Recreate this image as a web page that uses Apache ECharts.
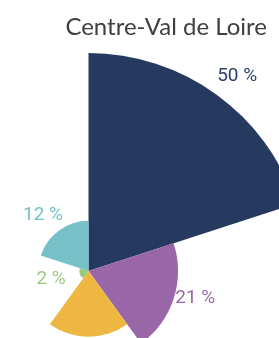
<!DOCTYPE html>
<html>
<head>
<meta charset="utf-8">
<script src="https://cdn.jsdelivr.net/npm/echarts@6/dist/echarts.min.js"></script>
<style>
  html, body { margin: 0; padding: 0; background: #fff; }
  #chart { width: 279px; height: 338px; }
</style>
</head>
<body>
<div id="chart"></div>
<script>
// shares per category, in percent
const categories = ["A", "B", "C", "D", "E"];
const values = [50.4, 20.7, 15.2, 2.1, 11.6];
const colors = ["#263a60", "#9966a8", "#eeb742", "#98c97c", "#76c1c7"];
const labelColors = ["#2c3f68", "#9966a8", "#eeb742", "#98c97c", "#76c1c7"];

// hidden label lines only used to push each label to its spot
const lineLen = [23, -131, 15, -192, -149];
const lineLen2 = [-13, 4, 0, -2, -15];

const chart = echarts.init(document.getElementById("chart"));

const data = values.map(function (v, i) {
  return {
    name: categories[i],
    value: v,
    itemStyle: { color: colors[i] },
    label: { color: labelColors[i] },
    labelLine: { length: lineLen[i], length2: lineLen2[i] }
  };
});

const option = {
  animation: false,
  title: {
    text: "Centre-Val de Loire",
    right: 7,
    top: 10,
    textStyle: {
      fontFamily: "Lato",
      fontWeight: "normal",
      fontSize: 24,
      color: "#404040"
    }
  },
  series: [
    {
      type: "pie",
      roseType: "area",
      center: [88.5, 271],
      radius: [0, 218],
      startAngle: 90,
      clockwise: true,
      avoidLabelOverlap: false,
      label: {
        show: true,
        position: "outside",
        distanceToLabelLine: 0,
        fontFamily: "Roboto",
        fontSize: 19,
        formatter: function (p) {
          return Math.round(p.value) + " %";
        }
      },
      labelLine: { show: false },
      emphasis: { disabled: true },
      data: data
    }
  ]
};

chart.setOption(option);
</script>
</body>
</html>
